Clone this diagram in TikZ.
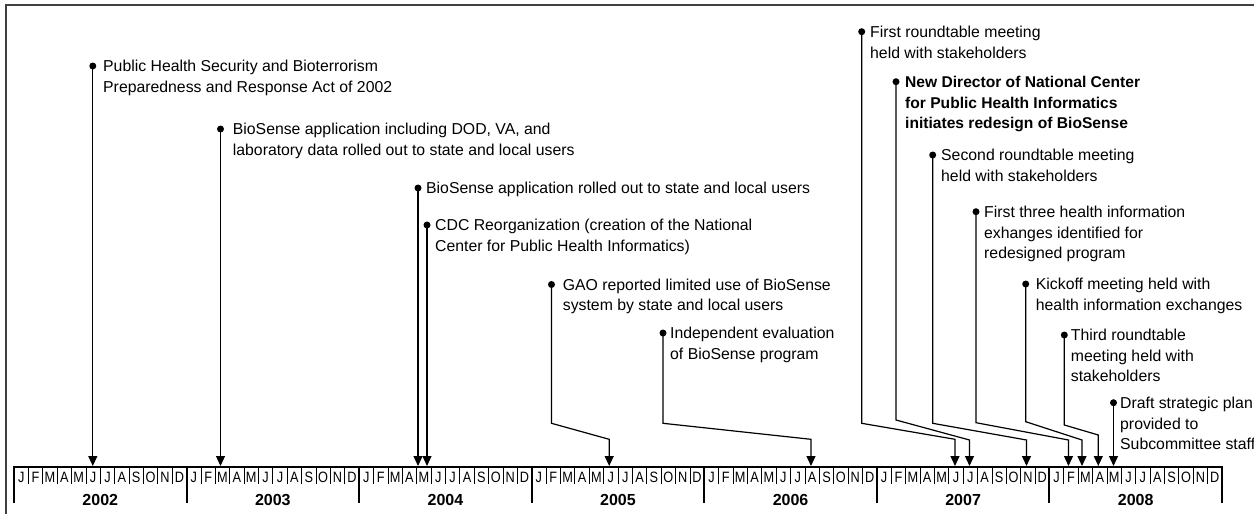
\documentclass[tikz,border=0pt]{standalone}
\usepackage{fontspec}
\setmainfont{Liberation Sans}
\newfontfamily\condfont[FakeStretch=0.85]{Liberation Sans}
\usetikzlibrary{arrows.meta}
\tikzset{
  evt/.style={anchor=north west, inner sep=0pt, align=left, font=\fontsize{15.8}{20.5}\selectfont},
  evtb/.style={anchor=north west, inner sep=0pt, align=left, font=\fontsize{15.6}{20.5}\selectfont\bfseries},
  conn/.style={line width=1.2pt, -{Triangle[width=9pt,length=10pt]}},
  mon/.style={anchor=base, inner sep=0pt, font=\condfont\fontsize{15}{15}\selectfont},
  yr/.style={anchor=base, inner sep=0pt, font=\fontsize{16}{16}\selectfont\bfseries},
  frame/.style={line width=1.2pt, black!75},
}
\begin{document}
\begin{tikzpicture}[x=1pt,y=-1pt]
\useasboundingbox (0,0) rectangle (1254,514);
\draw[frame] (6,514) -- (6,5) -- (1254,5);

% ---- time axis ----
\coordinate (axL) at (14,467);
\coordinate (axR) at (1222,467);
\draw[line width=2pt] (axL) -- (axR);
\foreach \k in {0,...,7}{
  \draw[line width=2pt] ({14+\k*172.571},466) -- ({14+\k*172.571},503);
}
\foreach \yr [count=\k from 0] in {2002,2003,2004,2005,2006,2007,2008}{
  \foreach \m in {1,...,11}{
    \draw[line width=0.8pt] ({14+\k*172.571+\m*14.381},467) -- ({14+\k*172.571+\m*14.381},484);
  }
  \foreach \l [count=\m] in {J,F,M,A,M,J,J,A,S,O,N,D}{
    \node[mon] (mon-\yr-\m) at ({14+\k*172.571+(\m-0.5)*14.381},482.5) {\l};
  }
  \node[yr] (year-\yr) at ({14+(\k+0.5)*172.571},505) {\yr};
}

% ---- event anchor points ----
\coordinate (d1) at (92.8,66);     \coordinate (t1) at (92.8,466);
\coordinate (d2) at (220.5,129);   \coordinate (t2) at (220.5,466);
\coordinate (d3) at (418,188);     \coordinate (t3) at (418,466);
\coordinate (d4) at (427,225);     \coordinate (t4) at (427,466);
\coordinate (d5) at (551.5,284.5); \coordinate (t5) at (609.2,466);
\coordinate (d6) at (663,333);     \coordinate (t6) at (811,466);
\coordinate (d7) at (861.7,31.7);  \coordinate (t7) at (955,466);
\coordinate (d8) at (896,81.7);    \coordinate (t8) at (969.5,466);
\coordinate (d9) at (932.7,155);   \coordinate (t9) at (1026.5,466);
\coordinate (d10) at (976,211.7);  \coordinate (t10) at (1068.5,466);
\coordinate (d11) at (1025.7,284); \coordinate (t11) at (1082,466);
\coordinate (d12) at (1064.3,335); \coordinate (t12) at (1098.3,466);
\coordinate (d13) at (1113.5,402.7); \coordinate (t13) at (1113.5,466);

% ---- event texts ----
\node[evt] (e1) at (103,60.3) {Public Health Security and Bioterrorism\\Preparedness and Response Act of 2002};
\node[evt] (e2) at (232.7,123.3) {BioSense application including DOD, VA, and\\laboratory data rolled out to state and local users};
\node[evt] (e3) at (426,182.3) {BioSense application rolled out to state and local users};
\node[evt] (e4) at (435,219.3) {CDC Reorganization (creation of the National\\Center for Public Health Informatics)};
\node[evt] (e5) at (562.7,278.8) {GAO reported limited use of BioSense\\system by state and local users};
\node[evt] (e6) at (670,327.3) {Independent evaluation\\of BioSense program};
\node[evt] (e7) at (870,26) {First roundtable meeting\\held with stakeholders};
\node[evtb] (e8) at (905,76) {New Director of National Center\\for Public Health Informatics\\initiates redesign of BioSense};
\node[evt] (e9) at (941,149.3) {Second roundtable meeting\\held with stakeholders};
\node[evt] (e10) at (984,206) {First three health information\\exhanges identified for\\redesigned program};
\node[evt] (e11) at (1035.7,278.3) {Kickoff meeting held with\\health information exchanges};
\node[evt] (e12) at (1070.7,329.3) {Third roundtable\\meeting held with\\stakeholders};
\node[evt] (e13) at (1120,397) {Draft strategic plan\\provided to\\Subcommittee staff};

% ---- dots ----
\foreach \i in {1,...,13}{ \fill (d\i) circle (3.5); }

% ---- connectors ----
\draw[conn] (d1) -- (t1);
\draw[conn] (d2) -- (t2);
\draw[conn] (d3) -- (t3);
\draw[conn] (d4) -- (t4);
\draw[conn] (d5) -- (d5 |- 0,423.3) -- (t5 |- 0,439.3) -- (t5);
\draw[conn] (d6) -- (d6 |- 0,423.3) -- (t6 |- 0,439.3) -- (t6);
\draw[conn] (d7) -- (d7 |- 0,423.3) -- (t7 |- 0,439.3) -- (t7);
\draw[conn] (d8) -- (d8 |- 0,420) -- (t8 |- 0,440) -- (t8);
\draw[conn] (d9) -- (d9 |- 0,423.3) -- (t9 |- 0,440) -- (t9);
\draw[conn] (d10) -- (d10 |- 0,422.7) -- (t10 |- 0,440) -- (t10);
\draw[conn] (d11) -- (d11 |- 0,421.7) -- (t11 |- 0,440) -- (t11);
\draw[conn] (d12) -- (d12 |- 0,425) -- (t12 |- 0,435) -- (t12);
\draw[conn] (d13) -- (t13);
\end{tikzpicture}
\end{document}
